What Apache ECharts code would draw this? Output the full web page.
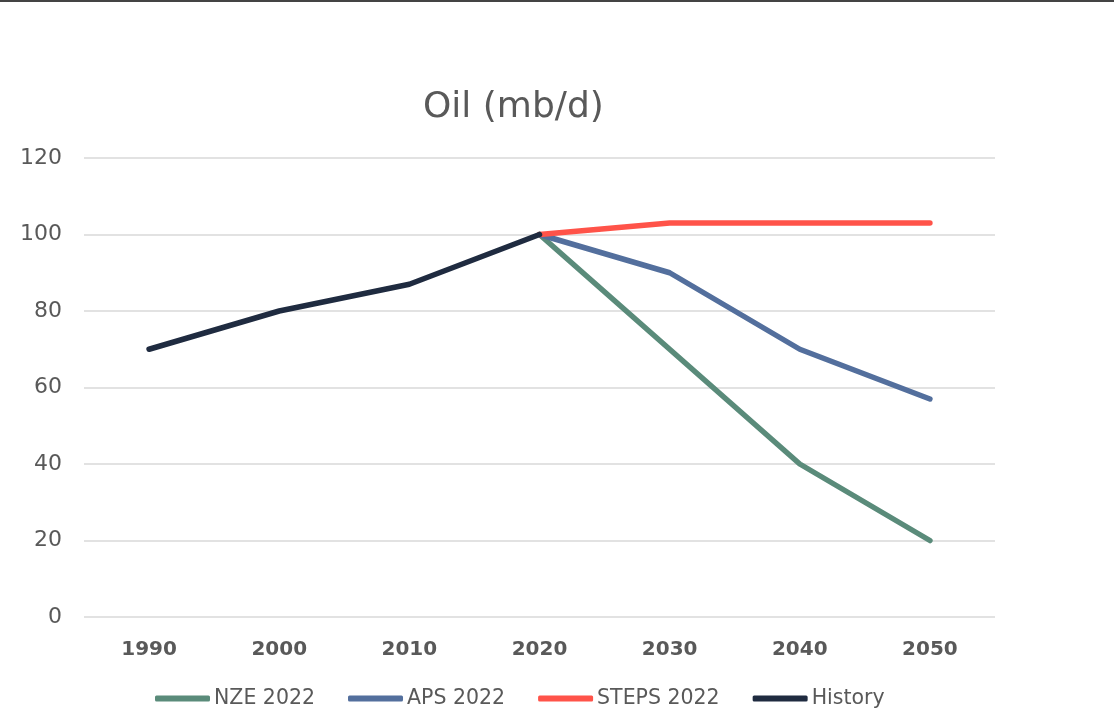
<!DOCTYPE html>
<html lang="en">
<head>
    <meta charset="UTF-8">
    <title>Oil (mb/d)</title>
    <script src="https://cdn.jsdelivr.net/npm/echarts@6/dist/echarts.min.js"></script>
    <style>
        html, body {
            margin: 0;
            padding: 0;
            background: #fff;
        }
        #chart {
            width: 1114px;
            height: 716px;
            box-sizing: border-box;
            border-top: 2px solid #444;
        }
    </style>
</head>
<body>
    <div id="chart"></div>
    <script>
        // Categories and series values (mb/d)
        const years = ['1990', '2000', '2010', '2020', '2030', '2040', '2050'];
        const nze2022 = [null, null, null, 100, 70, 40, 20];
        const aps2022 = [null, null, null, 100, 90, 70, 57];
        const steps2022 = [null, null, null, 100, 103, 103, 103];
        const history = [70, 80, 87, 100, null, null, null];

        const textColor = '#595959';
        const font = '"DejaVu Sans", sans-serif';

        function lineSeries(name, data, color) {
            return {
                name: name,
                type: 'line',
                data: data,
                symbol: 'none',
                connectNulls: false,
                lineStyle: { width: 5.5, color: color, cap: 'round', join: 'round' },
                itemStyle: { color: color }
            };
        }

        var myChart = echarts.init(document.getElementById('chart'));

        var option = {
            animation: false,
            title: {
                text: 'Oil (mb/d)',
                left: 418,
                top: 83,
                textStyle: { fontFamily: font, fontSize: 36, fontWeight: 'normal', color: textColor }
            },
            grid: { left: 84, right: 119, top: 156, bottom: 99 },
            legend: {
                top: 681,
                left: 150,
                icon: 'roundRect',
                itemWidth: 55,
                itemHeight: 6,
                itemGap: 33,
                textStyle: { fontFamily: font, fontSize: 20.5, color: textColor, padding: [0, 0, 0, -1] },
                data: ['NZE 2022', 'APS 2022', 'STEPS 2022', 'History']
            },
            xAxis: {
                type: 'category',
                data: years,
                boundaryGap: true,
                axisLine: { show: false },
                axisTick: { show: false },
                axisLabel: { margin: 23, fontFamily: font, fontSize: 20, fontWeight: 'bold', color: textColor }
            },
            yAxis: {
                type: 'value',
                min: 0,
                max: 120,
                interval: 20,
                axisLine: { show: false },
                axisTick: { show: false },
                axisLabel: { margin: 22, fontFamily: font, fontSize: 22, color: textColor },
                splitLine: { lineStyle: { color: '#d9d9d9', width: 1.5 } }
            },
            series: [
                lineSeries('NZE 2022', nze2022, '#5a8b7a'),
                lineSeries('APS 2022', aps2022, '#536f9d'),
                lineSeries('STEPS 2022', steps2022, '#ff5349'),
                lineSeries('History', history, '#1f2b40')
            ]
        };

        myChart.setOption(option);
    </script>
</body>
</html>
